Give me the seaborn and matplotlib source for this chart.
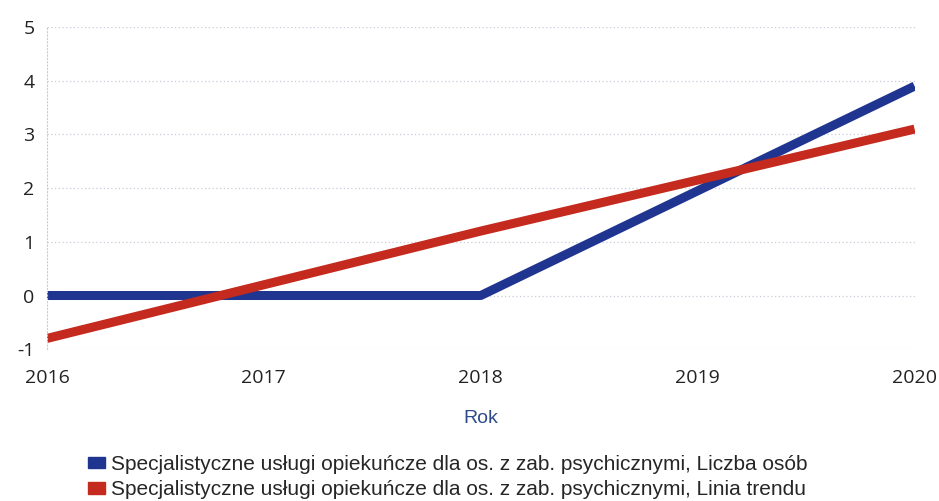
import matplotlib.pyplot as plt
import seaborn as sns
import pandas as pd
from matplotlib.patches import Patch

years = [2016, 2017, 2018, 2019, 2020]
liczba_osob = [0, 0, 0, 1.95, 3.9]
linia_trendu = [-0.8, 0.2, 1.2, 2.15, 3.1]
series_names = [
    'Specjalistyczne usługi opiekuńcze dla os. z zab. psychicznymi, Liczba osób',
    'Specjalistyczne usługi opiekuńcze dla os. z zab. psychicznymi, Linia trendu',
]
colors = ['#1f3590', '#c42a1e']

df = pd.DataFrame({
    'Rok': years * 2,
    'Wartość': liczba_osob + linia_trendu,
    'Seria': [series_names[0]] * len(years) + [series_names[1]] * len(years),
})

sns.set_style('white')
plt.rcParams['font.family'] = ['Open Sans', 'DejaVu Sans']
plt.rcParams['axes.unicode_minus'] = False

fig = plt.figure(figsize=(9.39, 5.01), dpi=100)
ax = fig.add_axes([0.05, 0.303, 0.924, 0.643])

sns.lineplot(data=df, x='Rok', y='Wartość', hue='Seria', palette=colors,
             linewidth=6.5, solid_capstyle='butt', legend=False, ax=ax)

ax.set_xlim(2016, 2020)
ax.set_ylim(-1, 5)
ax.set_xticks(years)
ax.set_yticks(range(-1, 6))
ax.tick_params(axis='x', labelsize=14, pad=14, length=0, colors='#222222')
ax.tick_params(axis='y', labelsize=14, pad=9, length=0, colors='#222222')

# faint dotted grid
for v in range(-1, 6):
    ax.axhline(v, color='#c8ccd8', linewidth=0.9, linestyle=(0, (1, 2)), zorder=0)
for s in ['top', 'right', 'bottom']:
    ax.spines[s].set_visible(False)
ax.spines['left'].set_color('#c8ccd8')
ax.spines['left'].set_linestyle((0, (1, 2)))

ax.set_ylabel('')
ax.set_xlabel('Rok', fontsize=14, color='#2e4a8c', labelpad=17,
              family=['Liberation Sans', 'DejaVu Sans'])

handles = [Patch(facecolor=c, edgecolor=c) for c in colors]
fig.legend(handles, series_names, loc='upper left', bbox_to_anchor=(0.094, 0.092),
           frameon=False, handlelength=0.8, handleheight=0.5, handletextpad=0.3,
           labelspacing=0.3, borderaxespad=0, borderpad=0,
           prop={'family': ['Liberation Sans', 'DejaVu Sans'], 'size': 15})

fig.savefig('out.png', dpi=100)
